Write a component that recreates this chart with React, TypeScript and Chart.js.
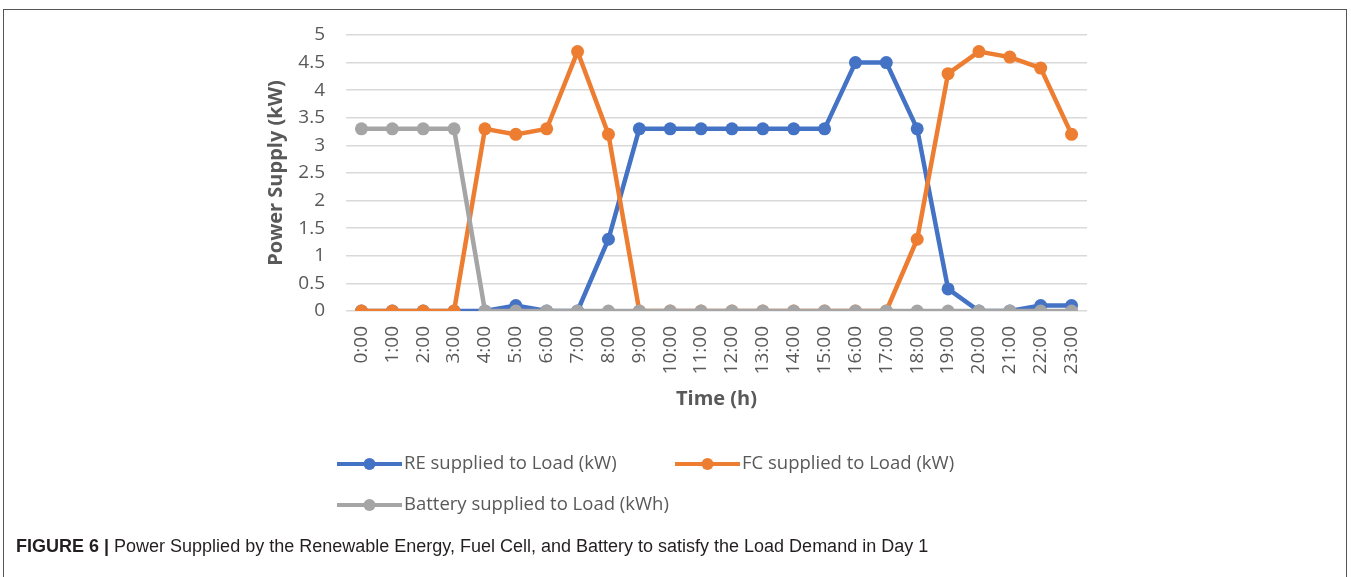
import React, { useEffect, useRef } from "react";
import { Chart, registerables } from "chart.js";

Chart.register(...registerables);

const hours = [
  "0:00", "1:00", "2:00", "3:00", "4:00", "5:00", "6:00", "7:00",
  "8:00", "9:00", "10:00", "11:00", "12:00", "13:00", "14:00", "15:00",
  "16:00", "17:00", "18:00", "19:00", "20:00", "21:00", "22:00", "23:00",
];

const reSupplied = [0, 0, 0, 0, 0, 0.1, 0, 0, 1.3, 3.3, 3.3, 3.3, 3.3, 3.3, 3.3, 3.3, 4.5, 4.5, 3.3, 0.4, 0, 0, 0.1, 0.1];
const fcSupplied = [0, 0, 0, 0, 3.3, 3.2, 3.3, 4.7, 3.2, 0, 0, 0, 0, 0, 0, 0, 0, 0, 1.3, 4.3, 4.7, 4.6, 4.4, 3.2];
const batterySupplied = [3.3, 3.3, 3.3, 3.3, 0, 0, 0, 0, 0, 0, 0, 0, 0, 0, 0, 0, 0, 0, 0, 0, 0, 0, 0, 0];

const seriesNames = [
  "RE supplied to Load (kW)",
  "FC supplied to Load (kW)",
  "Battery supplied to Load (kWh)",
];
const seriesColors = ["#4472C4", "#ED7D31", "#A5A5A5"];

const yMin = 0;
const yMax = 5;
const yStep = 0.5;

const FONT = "'Open Sans', 'Noto Sans', sans-serif";
const TEXT_COLOR = "#595959";

const legendSlots = [
  { x: 337, y: 464 },
  { x: 675, y: 464 },
  { x: 337, y: 505 },
];

const legendPlugin = {
  id: "customLegend",
  afterDraw(chart: any) {
    const ctx = chart.ctx as CanvasRenderingContext2D;
    ctx.save();
    chart.data.datasets.forEach((ds: any, i: number) => {
      const slot = legendSlots[i];
      if (!slot) return;
      const lineLen = 65;
      ctx.strokeStyle = ds.borderColor;
      ctx.lineWidth = 4;
      ctx.lineCap = "butt";
      ctx.beginPath();
      ctx.moveTo(slot.x, slot.y);
      ctx.lineTo(slot.x + lineLen, slot.y);
      ctx.stroke();
      ctx.fillStyle = ds.pointBackgroundColor;
      ctx.beginPath();
      ctx.arc(slot.x + lineLen / 2, slot.y, 6, 0, Math.PI * 2);
      ctx.fill();
      ctx.fillStyle = TEXT_COLOR;
      ctx.font = `18.5px ${FONT}`;
      ctx.textBaseline = "middle";
      ctx.textAlign = "left";
      ctx.fillText(ds.label, slot.x + lineLen + 2, slot.y);
    });
    ctx.restore();
  },
};

export default function App() {
  const canvasRef = useRef<HTMLCanvasElement | null>(null);

  useEffect(() => {
    if (!canvasRef.current) return;
    const datasets = [reSupplied, fcSupplied, batterySupplied].map((values, i) => ({
      label: seriesNames[i],
      data: values,
      borderColor: seriesColors[i],
      backgroundColor: seriesColors[i],
      pointBackgroundColor: seriesColors[i],
      pointBorderColor: seriesColors[i],
      borderWidth: 4.5,
      pointRadius: 6.5,
      pointBorderWidth: 0,
      tension: 0,
      fill: false,
      order: 3 - i,
    }));

    const chart = new Chart(canvasRef.current, {
      type: "line",
      data: { labels: hours, datasets },
      plugins: [legendPlugin],
      options: {
        animation: false,
        responsive: false,
        devicePixelRatio: 1,
        layout: { padding: { left: 260, top: 35, right: 264, bottom: 162 } },
        plugins: {
          legend: { display: false },
          tooltip: { enabled: false },
          title: { display: false },
        },
        scales: {
          x: {
            type: "category",
            offset: true,
            grid: { display: false, drawTicks: false },
            border: { display: false },
            ticks: {
              autoSkip: false,
              maxRotation: 90,
              minRotation: 90,
              padding: 15,
              color: TEXT_COLOR,
              font: { family: FONT, size: 19 },
            },
            title: {
              display: true,
              text: "Time (h)",
              color: TEXT_COLOR,
              font: { family: FONT, size: 20, weight: "bold" },
            },
            afterFit: (scale: any) => {
              scale.height = 104;
            },
          },
          y: {
            min: yMin,
            max: yMax,
            grid: { color: "#D9D9D9", lineWidth: 1.5, drawTicks: false },
            border: { display: false },
            ticks: {
              stepSize: yStep,
              padding: 21,
              color: TEXT_COLOR,
              font: { family: FONT, size: 19 },
              callback: (v: any) => String(Number(v)),
            },
            title: {
              display: true,
              text: "Power Supply (kW)",
              color: TEXT_COLOR,
              font: { family: FONT, size: 20, weight: "bold" },
            },
            afterFit: (scale: any) => {
              scale.width = 86;
            },
          },
        },
      },
    } as any);

    return () => chart.destroy();
  }, []);

  return (
    <div style={{ position: "absolute", left: 0, top: 0, width: 1351, height: 577, background: "#fff", overflow: "hidden" }}>
      <div
        style={{
          position: "absolute",
          left: 3,
          top: 9,
          width: 1344,
          height: 600,
          borderTop: "1.5px solid #555",
          borderLeft: "1.5px solid #555",
          borderRight: "1.5px solid #555",
          boxSizing: "border-box",
        }}
      />
      <canvas ref={canvasRef} width={1351} height={577} style={{ position: "absolute", left: 0, top: 0 }} />
      <div
        style={{
          position: "absolute",
          left: 16,
          top: 535,
          fontFamily: "'Liberation Sans', Arial, sans-serif",
          fontSize: 18,
          lineHeight: "22px",
          color: "#231F20",
          whiteSpace: "nowrap",
        }}
      >
        <b>FIGURE 6 |</b> Power Supplied by the Renewable Energy, Fuel Cell, and Battery to satisfy the Load Demand in Day 1
      </div>
    </div>
  );
}
